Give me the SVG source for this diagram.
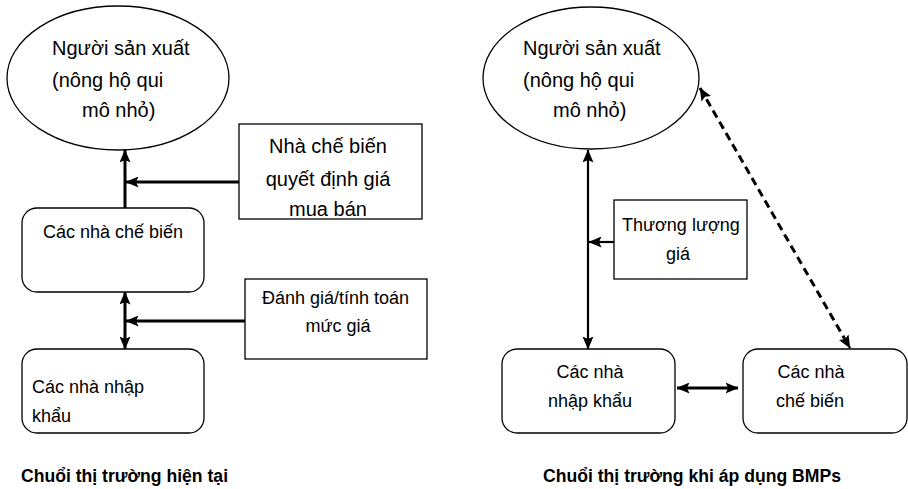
<svg xmlns="http://www.w3.org/2000/svg" width="908" height="489" viewBox="0 0 908 489">
<style>
  .shape { fill: #ffffff; stroke: #000000; stroke-width: 1.3; }
  .rect { fill: #ffffff; stroke: #000000; stroke-width: 1.3; }
  .t20 { font-family: "Liberation Sans", Arial, sans-serif; font-size: 20px; fill: #000; }
  .t18 { font-family: "Liberation Sans", Arial, sans-serif; font-size: 18px; fill: #000; }
  .title { font-family: "Liberation Sans", Arial, sans-serif; font-size: 17.6px; font-weight: bold; fill: #000; }
  .mid { text-anchor: middle; }
  .thick { stroke: #000; stroke-width: 3; fill: none; }
  .med { stroke: #000; stroke-width: 2.2; fill: none; }
  .dash { stroke: #000; stroke-width: 3; fill: none; stroke-dasharray: 8 5; }
</style>
<defs>
  <marker id="ah" markerUnits="userSpaceOnUse" markerWidth="13" markerHeight="11" viewBox="0 0 13 11" refX="12.5" refY="5.5" orient="auto-start-reverse">
    <path d="M0,0 L13,5.5 L0,11 L2.5,5.5 z" fill="#000"/>
  </marker>
</defs>

<g id="left-producer">
  <ellipse class="shape" cx="118" cy="78" rx="111" ry="72"/>
  <text class="t20" x="52" y="55">Người sản xuất</text>
  <text class="t20" x="52" y="87">(nông hộ qui</text>
  <text class="t20" x="82" y="117">mô nhỏ)</text>
</g>

<g id="left-price-box">
  <rect class="rect" x="239" y="124" width="183" height="95"/>
  <text class="t20 mid" x="328" y="153">Nhà chế biến</text>
  <text class="t20 mid" x="328" y="186">quyết định giá</text>
  <text class="t20 mid" x="328" y="216">mua bán</text>
</g>

<g id="left-processors">
  <rect class="shape" x="22" y="208" width="182" height="84" rx="15" ry="15"/>
  <text class="t18" x="43" y="238">Các nhà chế biến</text>
</g>

<g id="left-eval-box">
  <rect class="rect" x="245" y="279" width="182" height="80"/>
  <text class="t18" x="262" y="304">Đánh giá/tính toán</text>
  <text class="t18 mid" x="338" y="332">mức giá</text>
</g>

<g id="left-importers">
  <rect class="shape" x="22" y="349" width="182" height="84" rx="15" ry="15"/>
  <text class="t18" x="32" y="393">Các nhà nhập</text>
  <text class="t18" x="32" y="422">khẩu</text>
</g>

<g id="left-title">
  <text class="title" x="21" y="482">Chuổi thị trường hiện tại</text>
</g>

<g id="right-producer">
  <ellipse class="shape" cx="591" cy="78" rx="108" ry="71"/>
  <text class="t20" x="523" y="55">Người sản xuất</text>
  <text class="t20" x="523" y="87">(nông hộ qui</text>
  <text class="t20" x="553" y="117">mô nhỏ)</text>
</g>

<g id="right-negotiate-box">
  <rect class="rect" x="614" y="200" width="133" height="79"/>
  <text class="t18" x="622" y="231">Thương lượng</text>
  <text class="t18 mid" x="678" y="260">giá</text>
</g>

<g id="right-importers">
  <rect class="shape" x="502" y="349" width="173" height="84" rx="15" ry="15"/>
  <text class="t18 mid" x="590" y="378">Các nhà</text>
  <text class="t18 mid" x="590" y="407">nhập khẩu</text>
</g>

<g id="right-processors">
  <rect class="shape" x="743" y="349" width="164" height="84" rx="15" ry="15"/>
  <text class="t18 mid" x="811" y="378">Các nhà</text>
  <text class="t18 mid" x="810" y="407">chế biến</text>
</g>

<g id="right-title">
  <text class="title mid" x="692" y="482">Chuổi thị trường khi áp dụng BMPs</text>
</g>

<g id="connectors">
  <line class="thick" x1="125" y1="208" x2="125" y2="150" marker-end="url(#ah)"/>
  <line class="thick" x1="239" y1="182" x2="126" y2="182" marker-end="url(#ah)"/>
  <line class="thick" x1="125" y1="292" x2="125" y2="349" marker-start="url(#ah)" marker-end="url(#ah)"/>
  <line class="thick" x1="245" y1="321" x2="126" y2="321" marker-end="url(#ah)"/>
  <line class="med" x1="588" y1="150" x2="588" y2="349" marker-start="url(#ah)" marker-end="url(#ah)"/>
  <line class="med" x1="614" y1="242" x2="589" y2="242" marker-end="url(#ah)"/>
  <line class="dash" x1="700" y1="88" x2="850" y2="348" marker-start="url(#ah)" marker-end="url(#ah)"/>
  <line class="thick" x1="677" y1="388" x2="738" y2="388" marker-start="url(#ah)" marker-end="url(#ah)"/>
</g>
</svg>
